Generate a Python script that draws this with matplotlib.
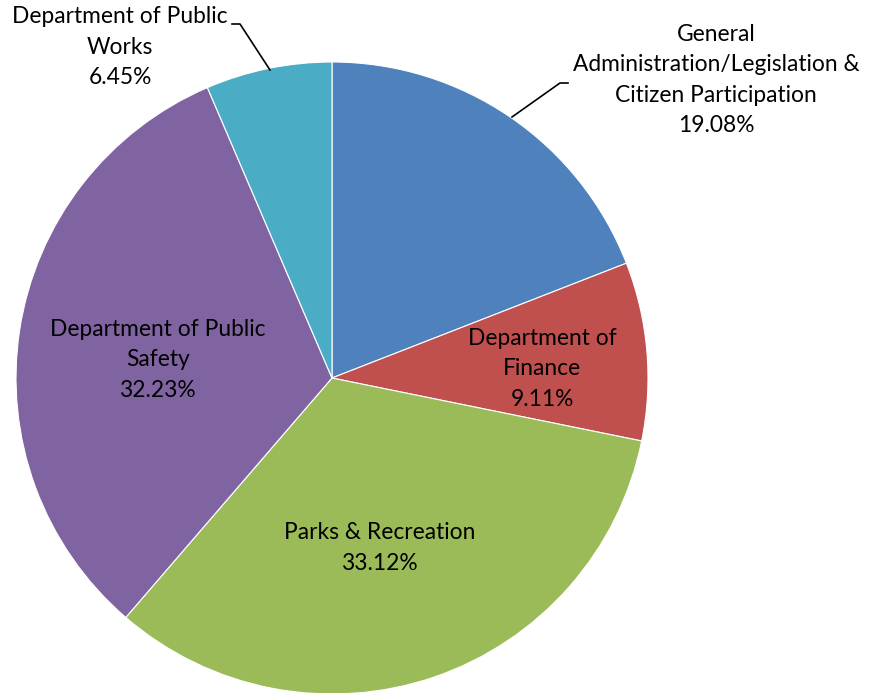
import matplotlib.pyplot as plt

# budget share by department (percent)
departments = ['General\nAdministration/Legislation &\nCitizen Participation',
               'Department of\nFinance',
               'Parks & Recreation',
               'Department of Public\nSafety',
               'Department of Public\nWorks']
shares = [19.08, 9.11, 33.12, 32.23, 6.45]
colors = ['#4F81BD', '#C0504D', '#9BBB59', '#8064A2', '#4BACC6']

W, H = 870, 693
fig = plt.figure(figsize=(W / 100, H / 100), dpi=100)
ax = fig.add_axes([0, 0, 1, 1])

cx, cy, r = 332, H - 378, 316
ax.pie(shares, colors=colors, startangle=90, counterclock=False,
       center=(cx, cy), radius=r, frame=True,
       wedgeprops=dict(edgecolor='white', linewidth=0.8))
ax.set_xlim(0, W)
ax.set_ylim(0, H)
ax.set_aspect('equal')
ax.axis('off')

# label positions in pixel space (x, y from top)
label_pos = [(716, 80), (542, 369), (380, 548), (158, 360), (120, 47)]
for name, val, (x, y) in zip(departments, shares, label_pos):
    ax.text(x, H - y, f'{name}\n{val:.2f}%', ha='center', va='center',
            fontsize=16.4, family='Lato', linespacing=1.55, color='black')

# leader lines for the two outside labels
ax.plot([232, 240, 270], [H - 24, H - 24, H - 70], color='black', lw=1.2)
ax.plot([568, 560, 512], [H - 83, H - 83, H - 117], color='black', lw=1.2)

fig.savefig('out.png', dpi=100)
